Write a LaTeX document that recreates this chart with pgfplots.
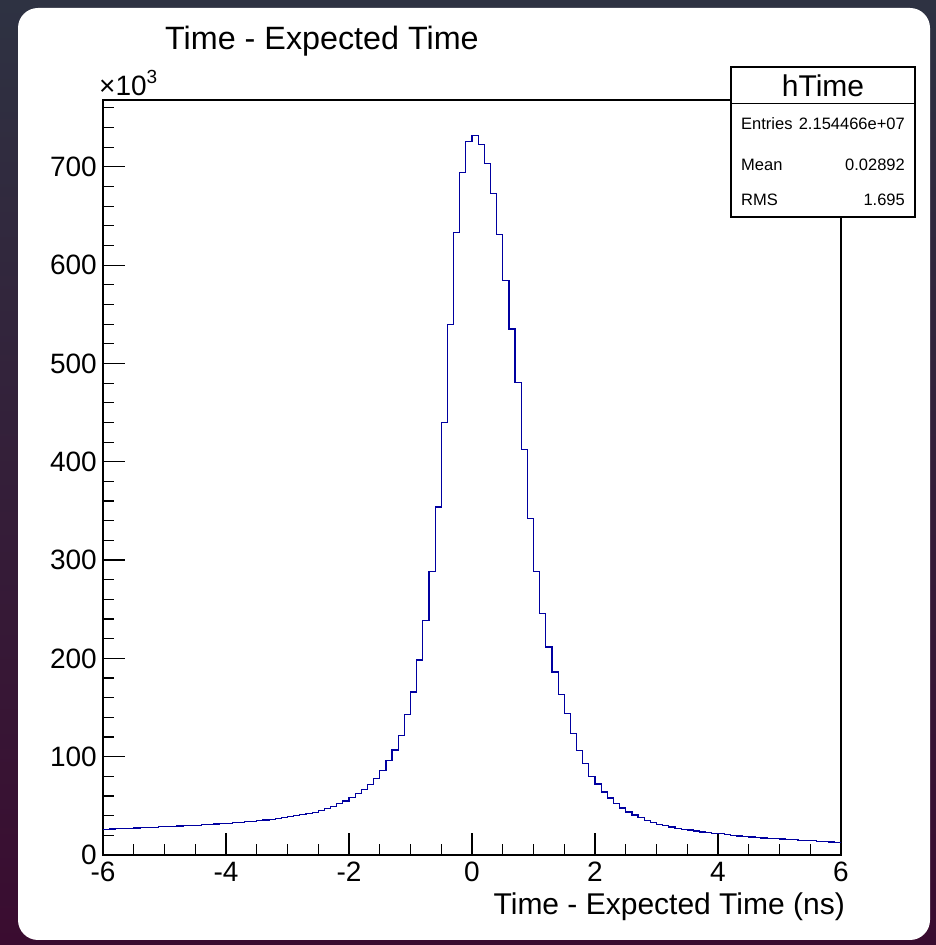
\documentclass[border=0pt]{standalone}
\usepackage{fontspec}
\setmainfont{Liberation Sans}
\usepackage{pgfplots}
\pgfplotsset{compat=1.18}
\definecolor{histblue}{RGB}{0,0,160}
\definecolor{bgtop}{RGB}{46,50,66}
\definecolor{bgbot}{RGB}{58,12,48}
\begin{document}
\begin{tikzpicture}[x=1pt,y=1pt]
\shade[top color=bgtop,bottom color=bgbot] (0,0) rectangle (936,945);
\fill[white,rounded corners=20pt] (18,5) rectangle (930,937);
\begin{axis}[
  at={(103pt,90pt)}, anchor=south west,
  scale only axis, width=738pt, height=755pt,
  xmin=-6, xmax=6, ymin=0, ymax=768,
  axis line style={line width=1.2pt},
  tick style={line width=1.2pt, black},
  major tick length=22pt, minor tick length=11pt,
  tick align=inside,
  xtick pos=bottom, ytick pos=left,
  xtick={-6,-4,...,6}, minor xtick={-6,-5.5,...,6},
  ytick={0,100,...,700}, minor ytick={0,20,...,760},
  ticklabel style={font=\fontsize{28}{30}\selectfont},
  /pgf/number format/assume math mode=true,
  xticklabel style={anchor=north, inner sep=0pt, yshift=-7pt},
  yticklabel style={anchor=east, inner sep=0pt, xshift=-6pt},
  scaled y ticks=false,
]
\addplot[const plot mark left, histblue, line width=1.2pt] coordinates {
(-6.0,26.3) (-5.9,26.5) (-5.8,26.8) (-5.7,27.0) (-5.6,27.3) (-5.5,27.5)
(-5.4,27.8) (-5.3,28.0) (-5.2,28.3) (-5.1,28.6) (-5.0,28.9) (-4.9,29.2)
(-4.8,29.5) (-4.7,29.8) (-4.6,30.1) (-4.5,30.4) (-4.4,30.8) (-4.3,31.1)
(-4.2,31.5) (-4.1,31.8) (-4.0,32.2) (-3.9,32.7) (-3.8,33.2) (-3.7,33.8)
(-3.6,34.4) (-3.5,35.0) (-3.4,35.7) (-3.3,36.4) (-3.2,37.2) (-3.1,38.1)
(-3.0,39.1) (-2.9,40.1) (-2.8,41.1) (-2.7,42.2) (-2.6,43.5) (-2.5,45.0)
(-2.4,47.0) (-2.3,49.5) (-2.2,52.0) (-2.1,55.0) (-2.0,58.5) (-1.9,62.2)
(-1.8,66.3) (-1.7,71.7) (-1.6,77.6) (-1.5,86.1) (-1.4,96.3) (-1.3,106.8)
(-1.2,121.3) (-1.1,142.7) (-1.0,165.8) (-0.9,198.3) (-0.8,238.3) (-0.7,288.1)
(-0.6,353.9) (-0.5,440) (-0.4,540) (-0.3,632.9) (-0.2,693.9) (-0.1,725.8)
(0.0,731.5) (0.1,722.7) (0.2,703.4) (0.3,672.5) (0.4,630.8) (0.5,584.4)
(0.6,535) (0.7,480.7) (0.8,412.2) (0.9,342.4) (1.0,288.1) (1.1,245.4)
(1.2,211.5) (1.3,186.1) (1.4,163.4) (1.5,143.6) (1.6,123.8) (1.7,106.4)
(1.8,93.2) (1.9,80.2) (2.0,72.3) (2.1,64.1) (2.2,58.0) (2.3,52.2)
(2.4,47.8) (2.5,43.8) (2.6,40.7) (2.7,37.8) (2.8,35.2) (2.9,33.0)
(3.0,31.4) (3.1,30.2) (3.2,28.5) (3.3,27.1) (3.4,26.1) (3.5,25.4)
(3.6,24.4) (3.7,23.3) (3.8,22.6) (3.9,22.0) (4.0,21.5) (4.1,20.8)
(4.2,20.1) (4.3,19.4) (4.4,18.8) (4.5,18.3) (4.6,17.8) (4.7,17.3)
(4.8,16.9) (4.9,16.5) (5.0,16.2) (5.1,15.8) (5.2,15.5) (5.3,15.1)
(5.4,14.8) (5.5,14.5) (5.6,14.1) (5.7,13.7) (5.8,13.3) (5.9,12.8)
(6.0,12.8)
};
\end{axis}
% title and labels
\node[anchor=base west, inner sep=0pt, font=\fontsize{32.3}{34}\selectfont] at (165,895) {Time - Expected Time};
\node[anchor=base east, inner sep=0pt, font=\fontsize{30}{32}\selectfont] at (845,30) {Time - Expected Time (ns)};
\node[anchor=base west, inner sep=0pt, font=\fontsize{28}{30}\selectfont] at (99,849) {×10\raisebox{0.45em}{\fontsize{19}{20}\selectfont 3}};
% stats box
\filldraw[fill=white, draw=black, line width=1.2pt] (731,728) rectangle (915,878);
\draw[line width=1.2pt] (731,841.7) -- (915,841.7);
\node[anchor=base, inner sep=0pt, font=\fontsize{30}{32}\selectfont] at (823,848) {hTime};
\begin{scope}[every node/.style={inner sep=0pt, font=\fontsize{16.5}{18}\selectfont}]
\node[anchor=base west] at (741,815) {Entries};
\node[anchor=base east] at (905,815) {2.154466e+07};
\node[anchor=base west] at (741,774) {Mean};
\node[anchor=base east] at (905,774) {0.02892};
\node[anchor=base west] at (741,739.5) {RMS};
\node[anchor=base east] at (905,739.5) {1.695};
\end{scope}
\end{tikzpicture}
\end{document}
